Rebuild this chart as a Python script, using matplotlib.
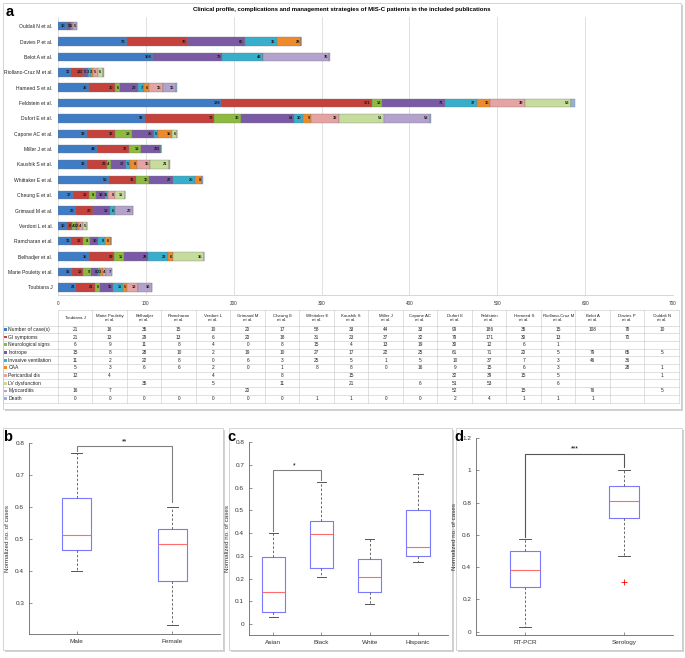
import matplotlib
matplotlib.use("Agg")
import numpy as np
import matplotlib.pyplot as plt
from matplotlib.patches import Rectangle
from matplotlib.ticker import FormatStrFormatter

plt.rcParams['font.family'] = ['Liberation Sans', 'DejaVu Sans']

W, H = 685, 658

# ---- panel a data (columns left->right = bars bottom->top) ----
studies = ["Toubiana J", "Marie Pouletty et al.", "Belhadjer et al.", "Ramcharan et al.",
           "Verdoni L et al.", "Grimaud M et al.", "Cheung E et al.", "Whittaker E et al.",
           "Kaushik S et al.", "Miller J et al.", "Capone AC et al.", "Dufort E et al.",
           "Feldstein et al.", "Hameed S et al.", "Riollano-Cruz M et al.", "Belot A et al.",
           "Davies P et al.", "Ouldali N et al."]
table_heads = ["Toubiana J", "Marie Pouletty\net al.", "Belhadjer\net al.", "Ramcharan\net al.",
               "Verdoni L\net al.", "Grimaud M\net al.", "Cheung E\net al.", "Whittaker E\net al.",
               "Kaushik S\net al.", "Miller J\net al.", "Capone AC\net al.", "Dufort E\net al.",
               "Feldstein\net al.", "Hameed S\net al.", "Riollano-Cruz M\net al.", "Belot A\net al.",
               "Davies P\net al.", "Ouldali N\net al."]
features = ["Number of case(s)", "GI symptoms", "Neurological signs", "Inotrope",
            "Invasive ventilation", "CAA", "Pericardial dis", "LV dysfunction",
            "Myocarditis", "Death"]
feature_colors = ["#3f7cc6", "#c4413c", "#8dba3f", "#7b5aa5", "#37aecb",
                  "#ef8a2a", "#e5a3a2", "#c6dc9d", "#b3a3cc", "#93b3dc"]

n_cases = [21, 16, 35, 15, 10, 20, 17, 58, 33, 44, 33, 99, 186, 35, 15, 108, 78, 10]
gi = [21, 13, 29, 13, 6, 20, 18, 31, 23, 37, 32, 79, 171, 30, 13, None, 70, None]
neuro = [6, 9, 11, 8, 4, 0, 8, 15, 4, 13, 19, 30, 12, 6, 1, None, None, None]
inotrope = [15, 8, 28, 10, 2, 19, 10, 27, 17, 22, 25, 61, 71, 20, 5, 79, 65, 5]
ventilation = [11, 2, 22, 8, 0, 6, 3, 25, 5, 1, 5, 10, 37, 7, 3, 46, 36, None]
caa = [5, 3, 6, 6, 2, 0, 1, 8, 8, 0, 16, 9, 15, 6, 3, None, 28, 1]
pericardial = [12, 4, None, None, 4, None, 8, None, 15, None, None, 32, 39, 15, 5, None, None, 1]
lv_dysf = [None, None, 35, None, 5, None, 11, None, 21, None, 6, 51, 53, None, 6, None, None, None]
myocarditis = [16, 7, None, None, None, 20, None, None, None, None, None, 52, None, 15, None, 76, None, 5]
death = [0, 0, 0, 0, 0, 0, 0, 1, 1, 0, 0, 2, 4, 1, 1, 1, None, None]
series = [n_cases, gi, neuro, inotrope, ventilation, caa, pericardial, lv_dysf, myocarditis, death]

# ---- panels b, c, d box statistics ----
sex_groups = ["Male", "Female"]
sex_q1 = [0.465, 0.368]
sex_med = [0.513, 0.485]
sex_q3 = [0.628, 0.532]
sex_lo = [0.40, 0.23]
sex_hi = [0.77, 0.60]

race_groups = ["Asian", "Black", "White", "Hispanic"]
race_q1 = [0.055, 0.245, 0.14, 0.30]
race_med = [0.14, 0.395, 0.207, 0.34]
race_q3 = [0.295, 0.455, 0.287, 0.50]
race_lo = [0.03, 0.205, 0.09, 0.272]
race_hi = [0.40, 0.625, 0.372, 0.66]

test_groups = ["RT-PCR", "Serology"]
test_q1 = [0.275, 0.705]
test_med = [0.385, 0.81]
test_q3 = [0.50, 0.905]
test_lo = [0.03, 0.47]
test_hi = [0.575, 1.0]
test_out = [[], [0.31]]

fig = plt.figure(figsize=(W / 100, H / 100), dpi=100)


def px_axes(x0, y0, x1, y1, **kw):
    return fig.add_axes([x0 / W, 1 - y1 / H, (x1 - x0) / W, (y1 - y0) / H], **kw)


# background layer in pixel coords: frames, table, panel letters
bg = fig.add_axes([0, 0, 1, 1], zorder=-1)
bg.set_xlim(0, W)
bg.set_ylim(H, 0)
bg.axis('off')

for (x0, y0, x1, y1) in [(3, 3, 681, 409), (3, 428, 223, 650), (229, 428, 452, 650), (456, 428, 682, 650)]:
    bg.add_patch(Rectangle((x0 + 2, y0 + 2), x1 - x0, y1 - y0, color='#d2d2d2', lw=0))
    bg.add_patch(Rectangle((x0, y0), x1 - x0, y1 - y0, facecolor='white', edgecolor='#c4c4c4', lw=0.5))

bg.text(6, 5, "a", fontsize=10.5, fontweight='bold', va='top', ha='left')
bg.text(3, 430, "b", fontsize=10.5, fontweight='bold', va='top', ha='left')
bg.text(227, 430, "c", fontsize=10.5, fontweight='bold', va='top', ha='left')
bg.text(454, 430, "d", fontsize=10.5, fontweight='bold', va='top', ha='left')
bg.text(342, 10, "Clinical profile, complications and management strategies of MIS-C patients in the included publications",
        fontsize=4.3, fontweight='bold', ha='center', va='center')

# ---- table ----
lx0, cx0, tx1 = 3.5, 58, 679
cw = (tx1 - cx0) / len(studies)
ty0, ty_head, rh = 310, 325.5, 7.7
lc = '#c8c8c8'
ty1 = ty_head + rh * len(features)
bg.plot([cx0, tx1], [ty0, ty0], color=lc, lw=0.4)
for r in range(len(features) + 1):
    y = ty_head + r * rh
    bg.plot([lx0, tx1], [y, y], color=lc, lw=0.4)
for c in range(len(studies) + 1):
    x = cx0 + c * cw
    bg.plot([x, x], [ty0, ty1], color=lc, lw=0.4)
bg.plot([lx0, lx0], [ty_head, ty1], color=lc, lw=0.4)
for c, head in enumerate(table_heads):
    bg.text(cx0 + (c + 0.5) * cw, (ty0 + ty_head) / 2, head, fontsize=3.2, ha='center', va='center',
            linespacing=1.0, color='#222')
for r, (name, col, vals) in enumerate(zip(features, feature_colors, series)):
    yc = ty_head + (r + 0.5) * rh
    bg.add_patch(Rectangle((4.5, yc - 1.4), 2.8, 2.8, color=col, lw=0))
    bg.text(8.5, yc, name, fontsize=3.6, ha='left', va='center', color='#222')
    for c, v in enumerate(vals):
        if v is not None:
            bg.text(cx0 + (c + 0.5) * cw, yc, str(v), fontsize=3.4, ha='center', va='center', color='#222')

# ---- panel a stacked bars ----
ax = px_axes(58, 17, 673, 295)
ypos = np.arange(len(studies))
left = np.zeros(len(studies))
for k, (vals, col) in enumerate(zip(series, feature_colors)):
    v = np.array([0 if x is None else x for x in vals], dtype=float)
    ax.barh(ypos, v, left=left, height=0.55, color=col, edgecolor='#7a7a7a', lw=0.25, zorder=3)
    if k < len(series) - 1:
        for i in range(len(studies)):
            if v[i] > 0:
                ax.text(left[i] + v[i] - 1.5, ypos[i], f"{int(v[i])}", fontsize=2.9, fontweight='bold',
                        ha='right', va='center', color='#1a1a1a', zorder=4)
    left += v
ax.set_xlim(0, 700)
ax.set_ylim(-0.5, 17.6)
ax.set_yticks(ypos)
ax.set_yticklabels(studies, fontsize=3.6, color='#222')
ax.set_xticks(np.arange(0, 701, 100))
ax.tick_params(axis='x', labelsize=3.3, length=0, pad=4, colors='#333')
ax.tick_params(axis='y', length=0, pad=4)
ax.grid(axis='x', color='#dcdcdc', lw=0.6, zorder=0)
for s in ['top', 'right', 'left']:
    ax.spines[s].set_visible(False)
ax.spines['bottom'].set_color('#cfcfcf')
ax.spines['bottom'].set_linewidth(0.6)


# ---- box panels ----
def box_panel(rect, groups, q1, med, q3, lo, hi, width, ylim, yticks, fmt, outliers=None):
    bx = px_axes(*rect)
    stats = []
    for i, g in enumerate(groups):
        stats.append(dict(label=g, q1=q1[i], med=med[i], q3=q3[i], whislo=lo[i], whishi=hi[i],
                          fliers=outliers[i] if outliers else []))
    pos = np.arange(1, len(groups) + 1)
    bx.bxp(stats, positions=pos, widths=width, capwidths=width * 0.4, showfliers=True,
           boxprops=dict(color='#7a7aff', lw=0.8),
           medianprops=dict(color='#ff6a6a', lw=0.8),
           whiskerprops=dict(color='#555555', lw=0.6, ls=(0, (3, 2.2))),
           capprops=dict(color='#555555', lw=0.7),
           flierprops=dict(marker='+', markeredgecolor='red', markersize=4, markeredgewidth=0.6))
    bx.set_ylim(*ylim)
    bx.set_yticks(yticks)
    bx.yaxis.set_major_formatter(FormatStrFormatter(fmt))
    bx.set_ylabel("Normalized no. of cases", fontsize=4.5, labelpad=4, color='#333')
    for s in ['top', 'right']:
        bx.spines[s].set_visible(False)
    for s in ['left', 'bottom']:
        bx.spines[s].set_color('#666')
        bx.spines[s].set_linewidth(0.6)
    bx.tick_params(direction='in', length=2, width=0.5, labelsize=4.6, colors='#666', labelcolor='#333')
    return bx


bb = box_panel((29, 443, 220, 634), sex_groups, sex_q1, sex_med, sex_q3, sex_lo, sex_hi,
               0.3, (0.203, 0.8), [0.3, 0.4, 0.5, 0.6, 0.7, 0.8], '%.1f')
bb.set_xlim(0.5, 2.5)
bb.plot([1, 1, 2, 2], [0.775, 0.79, 0.79, 0.615], color='#808080', lw=0.8, clip_on=False)
bb.text(1.5, 0.793, "**", fontsize=5, ha='center', va='bottom', clip_on=False)

bc = box_panel((249, 442, 448, 635), race_groups, race_q1, race_med, race_q3, race_lo, race_hi,
               0.48, (-0.048, 0.8), [0, 0.1, 0.2, 0.3, 0.4, 0.5, 0.6, 0.7, 0.8], '%g')
bc.set_xlim(0.5, 4.62)
bc.plot([1, 1, 2, 2], [0.41, 0.675, 0.675, 0.635], color='#808080', lw=0.8)
bc.text(1.43, 0.678, "*", fontsize=5, ha='center', va='bottom')

bd = box_panel((476, 438, 673, 635), test_groups, test_q1, test_med, test_q3, test_lo, test_hi,
               0.3, (-0.02, 1.2), [0, 0.2, 0.4, 0.6, 0.8, 1.0, 1.2], '%g', outliers=test_out)
bd.set_xlim(0.5, 2.5)
bd.plot([1, 1, 2, 2], [0.59, 1.1, 1.1, 1.02], color='#555555', lw=0.8)
bd.text(1.5, 1.11, "***", fontsize=5, ha='center', va='bottom')

fig.savefig("out.png", dpi=100)
